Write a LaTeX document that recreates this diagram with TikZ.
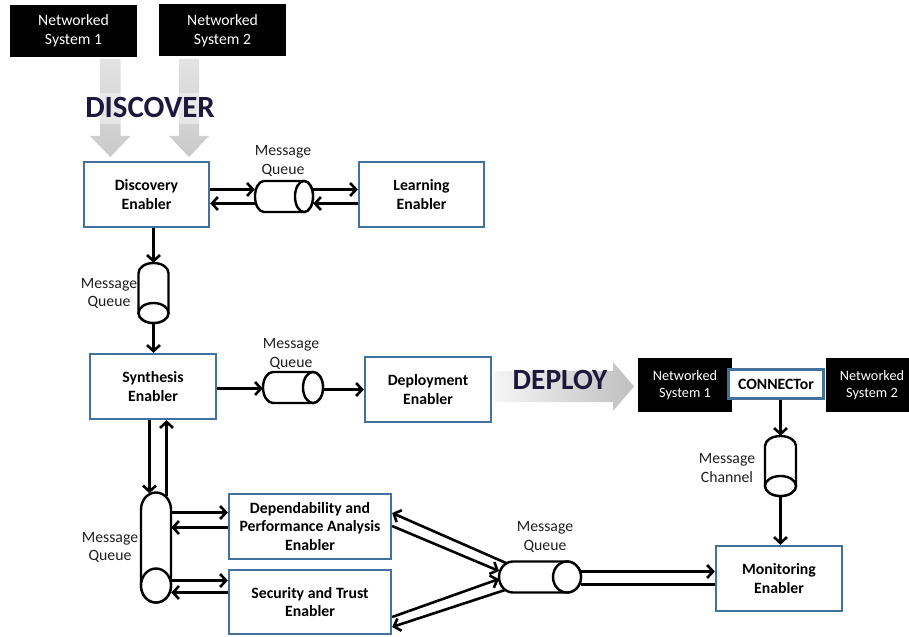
\documentclass[tikz,border=0pt]{standalone}
\usepackage{fontspec}
\setmainfont{Carlito}
\usetikzlibrary{arrows.meta,calc}
\definecolor{boxblue}{RGB}{65,113,156}
\definecolor{navy}{RGB}{30,25,60}
\newcommand\hcyl[6]{%
  \node[qbox, minimum width={2*#4*1bp}, minimum height={2*#5*1bp}] (#1) at (#2,#3) {};
  \draw[cylline] (#2-#4+#6,#3-#5) -- (#2+#4-#6,#3-#5)
     arc[start angle=-90,end angle=90,x radius=#6,y radius=#5]
     -- (#2-#4+#6,#3+#5)
     arc[start angle=90,end angle=270,x radius=#6,y radius=#5] -- cycle;
  \draw[cylline] (#2+#4-#6,#3) ellipse[x radius=#6,y radius=#5];
}
\newcommand\vcyl[6]{%
  \node[qbox, minimum width={2*#4*1bp}, minimum height={2*#5*1bp}] (#1) at (#2,#3) {};
  \draw[cylline] (#2-#4,#3-#5+#6)
     arc[start angle=180,end angle=360,x radius=#4,y radius=#6]
     -- (#2+#4,#3+#5-#6)
     arc[start angle=0,end angle=180,x radius=#4,y radius=#6] -- cycle;
  \draw[cylline] (#2,#3+#5-#6) ellipse[x radius=#4,y radius=#6];
}
\begin{document}
\begin{tikzpicture}[x=1bp,y=-1bp,
  box/.style={draw=boxblue, line width=2.3bp, fill=white, inner sep=0pt, align=center,
    font=\bfseries\fontsize{15.8}{19}\selectfont},
  nsbox/.style={fill=black, text=white, inner sep=0pt, align=center,
    font=\fontsize{15.8}{19}\selectfont},
  lbl/.style={align=center, inner sep=0pt, text=black!88, font=\fontsize{15.8}{19}\selectfont},
  big/.style={text=navy, inner sep=0pt, font=\bfseries\fontsize{31}{34}\selectfont},
  qbox/.style={draw=none, inner sep=0pt},
  cylline/.style={draw=black, line width=2.4bp, fill=white},
  conn/.style={line width=2.6bp, -{Straight Barb[length=6bp,width=13bp]}},
  plain/.style={line width=2.6bp}
]
\useasboundingbox (0,0) rectangle (909,637);

% top networked systems
\node[nsbox, minimum width=127bp, minimum height=52bp] (ns1t) at (73.5,31) {Networked\\System 1};
\node[nsbox, minimum width=127bp, minimum height=52bp] (ns2t) at (222.5,30.5) {Networked\\System 2};

% grey discover arrows
\shade[top color=gray!22, bottom color=gray!42]
  (100,59) -- (120.5,59) -- (120.5,136) -- (130.5,136) -- (110.3,157) -- (90,136) -- (100,136) -- cycle;
\shade[top color=gray!22, bottom color=gray!42]
  (179,59) -- (199,59) -- (199,136) -- (209,136) -- (189,157) -- (169,136) -- (179,136) -- cycle;
\fill[white, opacity=0.45] (78,93) rectangle (222,124);
\node[big] (discover) at (150,107) {DISCOVER};

% enablers
\node[box, minimum width=125bp, minimum height=65bp] (disc) at (146.5,194.5) {Discovery\\Enabler};
\node[box, minimum width=125bp, minimum height=65bp] (learn) at (421.5,194.5) {Learning\\Enabler};
\node[box, minimum width=126bp, minimum height=65bp] (synth) at (153,386.5) {Synthesis\\Enabler};
\node[box, minimum width=126bp, minimum height=65bp] (deploy) at (428,389.5) {Deployment\\Enabler};
\node[box, minimum width=162bp, minimum height=65bp] (dep) at (310,526.5) {Dependability and\\Performance Analysis\\Enabler};
\node[box, minimum width=162bp, minimum height=64bp] (sec) at (310,602) {Security and Trust\\Enabler};
\node[box, minimum width=126bp, minimum height=65bp] (mon) at (779,578.5) {Monitoring\\Enabler};

% deploy arrow
\shade[left color=gray!8, right color=gray!50]
  (494,371) -- (613,371) -- (613,362) -- (634,386.5) -- (613,411) -- (613,402) -- (494,402) -- cycle;
\node[big, font=\bfseries\fontsize{29.5}{32}\selectfont] (deploytxt) at (560,380) {DEPLOY};

% right networked systems and connector
\node[nsbox, minimum width=94bp, minimum height=54bp, font=\fontsize{14.3}{17.5}\selectfont] (ns1r) at (685,385) {Networked\\System 1};
\node[nsbox, minimum width=83bp, minimum height=54bp, font=\fontsize{14.3}{17.5}\selectfont] (ns2r) at (867.5,385) {\hspace*{9pt}Networked\\\hspace*{9pt}System 2};
\node[box, minimum width=95bp, minimum height=29bp] (conn) at (776,384) {CONNECTor};

% cylinders
\hcyl{q1}{284}{196.5}{29}{15.5}{9}
\vcyl{q2}{153.5}{293}{15}{30}{10}
\hcyl{q3}{293}{387.5}{30}{15.5}{10}
\vcyl{q4}{156}{547.5}{15}{55}{17}
\hcyl{q5}{540}{577}{41}{15.5}{14}
\vcyl{ch}{780.5}{466}{15.5}{30}{10}

% labels
\node[lbl] (q1l) at (283,161) {Message\\Queue};
\node[lbl] (q2l) at (109,293.5) {Message\\Queue};
\node[lbl] (q3l) at (291,354) {Message\\Queue};
\node[lbl] (q4l) at (110,547.5) {Message\\Queue};
\node[lbl] (q5l) at (545,537) {Message\\Queue};
\node[lbl] (chl) at (727,468) {Message\\Channel};

% connectors
\draw[conn] (disc.east |- 0,189.5) -- (q1.west |- 0,189.5);
\draw[conn] (q1.west |- 0,203.5) -- (disc.east |- 0,203.5);
\draw[conn] (q1.east |- 0,189.5) -- (learn.west |- 0,189.5);
\draw[conn] (learn.west |- 0,203.5) -- (q1.east |- 0,203.5);
\draw[conn] (disc.south -| q2.north) -- (q2.north);
\draw[conn] (q2.south) -- (q2.south |- synth.north);
\draw[conn] (synth.east |- 0,388.5) -- (q3.west |- 0,388.5);
\draw[conn] (q3.east |- 0,389.5) -- (deploy.west |- 0,389.5);
\draw[conn] ([xshift=-6.5bp]q4.north |- synth.south) -- ([xshift=-6.5bp,yshift=-1bp]q4.north);
\draw[conn] ([xshift=10.5bp,yshift=-4bp]q4.north) -- ([xshift=10.5bp]q4.north |- synth.south);
\draw[conn] (q4.east |- 0,512.5) -- (dep.west |- 0,512.5);
\draw[conn] (dep.west |- 0,527.5) -- (q4.east |- 0,527.5);
\draw[conn] (q4.east |- 0,580.5) -- (sec.west |- 0,580.5);
\draw[conn] (sec.west |- 0,592.5) -- (q4.east |- 0,592.5);
\draw[conn] ($(q5.center)+(-34,-14)$) -- (dep.east |- 0,513);
\draw[conn] (dep.east |- 0,526) -- ($(q5.center)+(-41,-6)$);
\draw[conn] (sec.east |- 0,617) -- ($(q5.center)+(-41,2)$);
\draw[conn] ($(q5.center)+(-35,13)$) -- (sec.east |- 0,627);
\draw[conn] (q5.east |- 0,571.5) -- (mon.west |- 0,571.5);
\draw[plain] (mon.west |- 0,584.5) -- (q5.east |- 0,584.5);
\draw[conn] (ch.north |- conn.south) -- (ch.north);
\draw[conn] (ch.south) -- (ch.south |- mon.north);
\end{tikzpicture}
\end{document}
